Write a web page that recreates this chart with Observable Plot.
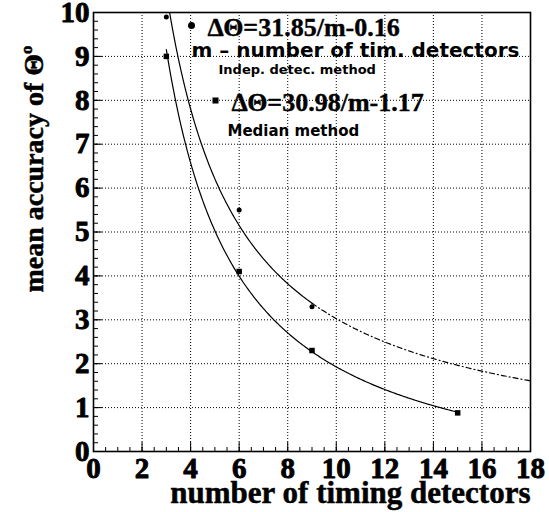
<!DOCTYPE html>
<html><head><meta charset="utf-8">
<script src="https://cdn.jsdelivr.net/npm/d3@7"></script>
<script src="https://cdn.jsdelivr.net/npm/@observablehq/plot@0.6"></script>
<style>html,body{margin:0;padding:0;background:#fff}</style>
</head><body><div id="chart"></div>
<script>
// ---- data ----
const detectorsIndep = [3, 6, 9];
const accuracyIndep = [9.9, 5.5, 3.3];
const detectorsMedian = [3, 6, 9, 15];
const accuracyMedian = [9.0, 4.1, 2.3, 0.88];
// fit  ΔΘ = a/m - b
const fitA = [31.85, 30.98];
const fitB = [0.16, 1.17];
const fitSolidFrom = [3, 3];
const fitSolidTo = [9, 15];
const fitDashTo = [18, 15];
const xTicks = [0, 2, 4, 6, 8, 10, 12, 14, 16, 18];
const yTicks = [0, 1, 2, 3, 4, 5, 6, 7, 8, 9, 10];
const legendTexts = ["ΔΘ=31.85/m-0.16", "m – number of tim. detectors", "Indep. detec. method", "ΔΘ=30.98/m-1.17", "Median method"];
const xTitle = "number of timing detectors";
const yTitle = "mean accuracy of Θ";
const ySup = "o";

// ---- layout ----
const W = 549, H = 512;
const mL = 93, mR = 19, mT = 12, mB = 61;
const plotW = W - mL - mR, plotH = H - mT - mB;
const serif = "'Liberation Serif','Times New Roman',serif";
const sans = "'DejaVu Sans',sans-serif";

const xMinor = d3.range(0, 18.001, 0.5);
const yMinor = d3.range(0, 10.001, 0.2);

const fitCurve = (i, lo, hi) => d3.range(lo, hi + 1e-9, 0.05).map(m => ({m, v: fitA[i] / m - fitB[i]}));
const indep = detectorsIndep.map((m, i) => ({m, v: accuracyIndep[i]}));
const median = detectorsMedian.map((m, i) => ({m, v: accuracyMedian[i]}));

const heavy = {fontWeight: "bold", fontFamily: serif, fill: "#000", stroke: "#000", strokeWidth: 0.5};
const tl = (o) => ({frameAnchor: "top-left", textAnchor: "start", lineAnchor: "bottom", fill: "#000", ...o});

const chart = Plot.plot({
  width: W, height: H,
  marginLeft: mL, marginRight: mR, marginTop: mT, marginBottom: mB,
  x: {domain: [0, 18], axis: null},
  y: {domain: [0, 10], axis: null},
  style: {background: "#fff", fontFamily: serif, overflow: "visible"},
  marks: [
    Plot.ruleX(xTicks.filter(d => d > 0 && d < 18), {x: d => d, stroke: "#000", strokeWidth: 1, strokeDasharray: "1,2"}),
    Plot.ruleY(yTicks.filter(d => d > 0 && d < 10), {y: d => d, stroke: "#000", strokeWidth: 1, strokeDasharray: "1,2"}),
    Plot.tickX(xMinor, {x: d => d, insetTop: plotH - 4, stroke: "#000", strokeWidth: 1}),
    Plot.tickX(xTicks, {x: d => d, insetTop: plotH - 9, stroke: "#000", strokeWidth: 1}),
    Plot.tickY(yMinor, {y: d => d, insetRight: plotW - 5, stroke: "#000", strokeWidth: 1}),
    Plot.tickY(yTicks, {y: d => d, insetRight: plotW - 9, stroke: "#000", strokeWidth: 1}),
    Plot.frame({stroke: "#000", strokeWidth: 1.6}),
    Plot.line(fitCurve(0, fitSolidFrom[0], fitSolidTo[0]), {x: "m", y: "v", stroke: "#000", strokeWidth: 1.2, clip: true}),
    Plot.line(fitCurve(0, fitSolidTo[0], fitDashTo[0]), {x: "m", y: "v", stroke: "#000", strokeWidth: 1.2, strokeDasharray: "5,3,1,3", clip: true}),
    Plot.line(fitCurve(1, fitSolidFrom[1], fitSolidTo[1]), {x: "m", y: "v", stroke: "#000", strokeWidth: 1.2, clip: true}),
    Plot.dot(indep, {x: "m", y: "v", r: 2.5, fill: "#000"}),
    Plot.dot(median, {x: "m", y: "v", r: 3.1, symbol: "square", fill: "#000"}),
    // tick labels
    Plot.text(xTicks, {x: d => d, text: d => String(d), frameAnchor: "bottom", lineAnchor: "bottom", dy: 26, fontSize: 29, ...heavy, strokeWidth: 0.9}),
    Plot.text(yTicks, {y: d => d, text: d => String(d), frameAnchor: "left", textAnchor: "end", lineAnchor: "middle", dx: -4, fontSize: 29, ...heavy, strokeWidth: 0.9}),
    // axis titles
    Plot.text([xTitle], {text: d => d, frameAnchor: "bottom-right", textAnchor: "end", lineAnchor: "bottom", dy: 51, fontSize: 31, ...heavy, strokeWidth: 0.5}),
    Plot.text([yTitle], {text: d => d, frameAnchor: "top-left", textAnchor: "end", lineAnchor: "bottom", rotate: -90, dx: -51, dy: 33, fontSize: 28, ...heavy, strokeWidth: 0.5}),
    // legend
    Plot.dot([0], {frameAnchor: "top-left", dx: 98, dy: 13, r: 3.5, fill: "#000"}),
    Plot.text([legendTexts[0]], tl({text: d => d, dx: 114, dy: 23, fontSize: 26, ...heavy, strokeWidth: 0.4})),
    Plot.text([legendTexts[1]], tl({text: d => d, dx: 98, dy: 44, fontSize: 20, fontWeight: "bold", fontFamily: sans})),
    Plot.text([legendTexts[2]], tl({text: d => d, dx: 125, dy: 61, fontSize: 13, fontWeight: "bold", fontFamily: sans})),
    Plot.dot([0], {frameAnchor: "top-left", dx: 122, dy: 88, r: 3.4, symbol: "square", fill: "#000"}),
    Plot.text([legendTexts[3]], tl({text: d => d, dx: 138, dy: 98, fontSize: 26, ...heavy, strokeWidth: 0.4})),
    Plot.text([legendTexts[4]], tl({text: d => d, dx: 134, dy: 123, fontSize: 15, fontWeight: "bold", fontFamily: sans}))
  ]
});

// superscript on the y title
d3.select(chart).selectAll("text").filter(function () { return this.textContent === yTitle; })
  .append("tspan").attr("dy", "-0.6em").attr("font-size", "0.6em").text(ySup);

document.getElementById("chart").append(chart);
</script>
</body></html>
